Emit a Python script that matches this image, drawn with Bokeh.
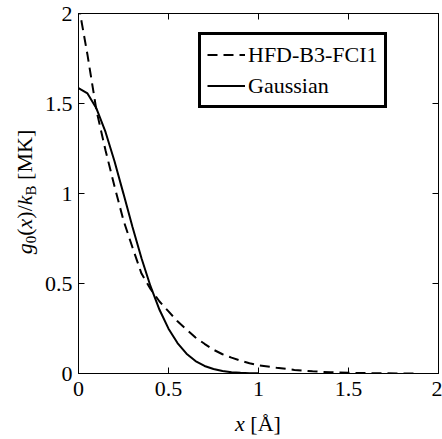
from bokeh.plotting import figure
from bokeh.models import LinearAxis, FixedTicker, Legend, LegendItem, Range1d, Div
from bokeh.layouts import row, column
from bokeh.embed import file_html
from bokeh.resources import INLINE

# ---- data ----
hfd_x = [0.0, 0.05, 0.1, 0.15, 0.2, 0.25, 0.3, 0.35, 0.4, 0.45, 0.5, 0.55, 0.6, 0.65,
         0.7, 0.75, 0.8, 0.85, 0.9, 0.95, 1.0, 1.1, 1.2, 1.3, 1.4, 1.5, 1.6, 1.7, 1.8, 1.88]
hfd_y = [2.05, 1.77, 1.46, 1.24, 1.04, 0.85, 0.70, 0.555, 0.47, 0.40, 0.345, 0.29, 0.245, 0.20,
         0.165, 0.132, 0.107, 0.088, 0.071, 0.057, 0.046, 0.032, 0.020, 0.012, 0.007, 0.004,
         0.002, 0.001, 0.0005, 0.0]

gauss_x = [0.0, 0.05, 0.1, 0.15, 0.2, 0.25, 0.3, 0.35, 0.4, 0.45, 0.5, 0.55, 0.6, 0.65,
           0.7, 0.75, 0.8, 0.85, 0.9, 0.95, 1.0]
gauss_y = [1.585, 1.556, 1.472, 1.342, 1.179, 0.998, 0.814, 0.640, 0.485, 0.354, 0.249,
           0.169, 0.110, 0.069, 0.042, 0.025, 0.014, 0.0075, 0.0039, 0.0019, 0.0009]

ticks = [0, 0.5, 1, 1.5, 2]
tick_labels = ["0", "0.5", "1", "1.5", "2"]
series_names = ["HFD-B3-FCI1", "Gaussian"]

FONT = "Liberation Serif"
FS = "22px"

YL_W = 38          # width of the y-label strip
P_W, P_H = 404, 407
XL_H = 32

p = figure(width=P_W, height=P_H, x_range=Range1d(0, 2), y_range=Range1d(0, 2),
           output_backend="svg", toolbar_location=None,
           min_border_left=40, min_border_right=4, min_border_top=13, min_border_bottom=34)
p.grid.visible = False
p.outline_line_color = "black"
p.outline_line_width = 1
p.background_fill_color = "white"
p.border_fill_color = "white"

overrides = {t: l for t, l in zip(ticks, tick_labels)}
blank = {t: "" for t in ticks}

def style_axis(ax, labels=True):
    ax.ticker = FixedTicker(ticks=ticks)
    ax.major_tick_in = 6
    ax.major_tick_out = 0
    ax.minor_tick_in = 0
    ax.minor_tick_out = 0
    ax.axis_line_color = "black"
    ax.axis_line_width = 1
    ax.major_tick_line_color = "black"
    ax.major_tick_line_width = 1
    ax.major_label_text_font = FONT
    ax.major_label_text_font_size = FS
    ax.major_label_text_color = "black"
    if labels:
        ax.major_label_overrides = overrides
    else:
        ax.major_label_overrides = blank
        ax.major_label_standoff = 0

for ax in p.xaxis:
    style_axis(ax)
    ax.major_label_standoff = 8
for ax in p.yaxis:
    style_axis(ax)
    ax.major_label_standoff = 6

top = LinearAxis()
style_axis(top, labels=False)
p.add_layout(top, "above")
right = LinearAxis()
style_axis(right, labels=False)
p.add_layout(right, "right")

r1 = p.line(hfd_x, hfd_y, line_color="black", line_width=2, line_dash="10 6")
r2 = p.line(gauss_x, gauss_y, line_color="black", line_width=2)

legend = Legend(items=[LegendItem(label=series_names[0], renderers=[r1]),
                       LegendItem(label=series_names[1], renderers=[r2])],
                location=(120, 265))
legend.border_line_color = "black"
legend.border_line_alpha = 1
legend.border_line_width = 3
legend.background_fill_color = "white"
legend.background_fill_alpha = 1
legend.padding = 6
legend.spacing = 4
legend.margin = 0
legend.glyph_width = 38
legend.glyph_height = 27
legend.label_height = 27
legend.label_standoff = 3
legend.label_text_font = FONT
legend.label_text_font_size = FS
legend.label_text_color = "black"
p.add_layout(legend)

# ---- axis titles as HTML text (italic symbols and subscripts) ----
font_css = "font-family:'Liberation Serif','Times New Roman',serif;font-size:22px;color:black;"
y_html = (
    f'<div style="position:relative;width:{YL_W}px;height:{P_H}px;">'
    f'<div style="position:absolute;left:25.5px;top:191.5px;white-space:nowrap;line-height:24px;'
    f'transform:translate(-50%,-50%) rotate(-90deg);{font_css}">'
    '<i>g</i><span style="font-size:15px;position:relative;top:4px;">0</span>(<i>x</i>)/<i>k</i>'
    '<span style="font-size:15px;position:relative;top:4px;">B</span> [MK]'
    '</div></div>'
)
x_html = (
    f'<div style="position:relative;width:442px;height:{XL_H}px;">'
    f'<div style="position:absolute;left:258px;top:5px;white-space:nowrap;line-height:24px;'
    f'transform:translateX(-50%);{font_css}">'
    '<i>x</i> [\u00c5]'
    '</div></div>'
)
ydiv = Div(text=y_html, width=YL_W, height=P_H, margin=0)
xdiv = Div(text=x_html, width=442, height=XL_H, margin=0)

layout = column(row(ydiv, p, spacing=0), xdiv, spacing=0)

open("out.html", "w").write(file_html(layout, INLINE))
